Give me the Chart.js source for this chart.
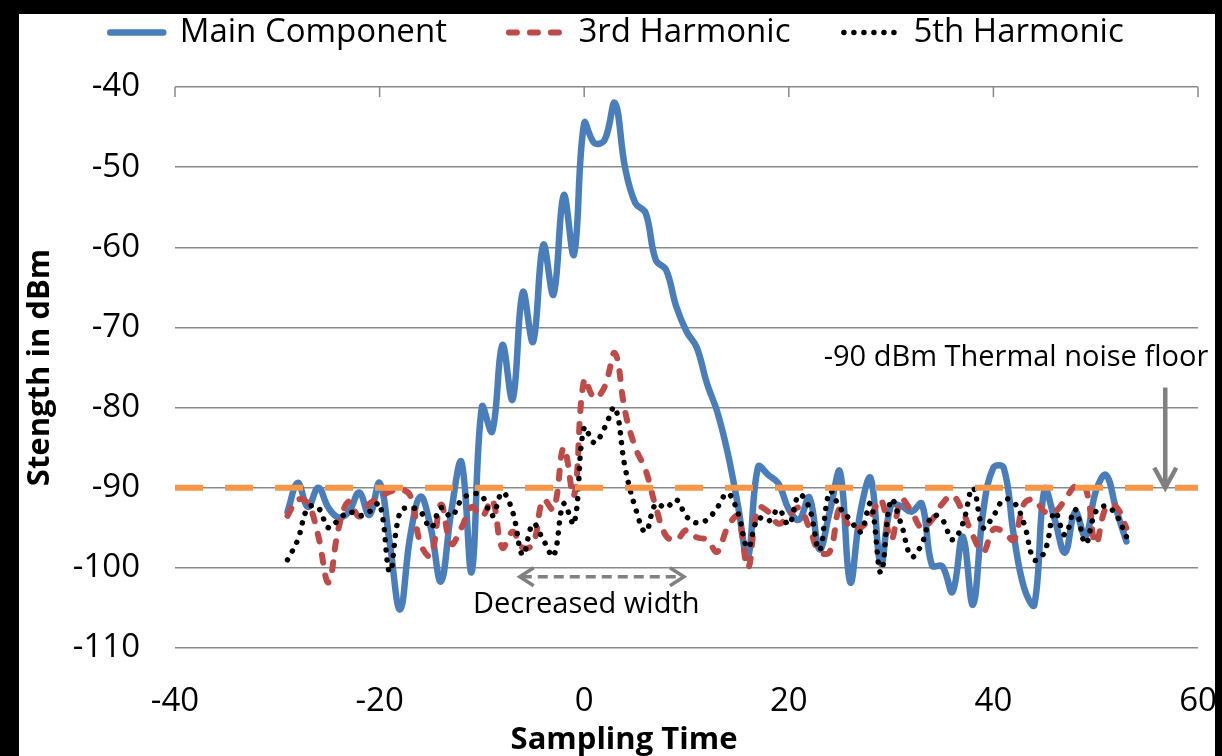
<!DOCTYPE html>
<html lang="en">
<head>
    <meta charset="UTF-8">
    <title>Harmonic strength vs sampling time</title>
    <script src="https://cdn.jsdelivr.net/npm/chart.js"></script>
    <style>
        html, body {
            margin: 0;
            padding: 0;
            background: #000;
            overflow: hidden;
        }
        .frame {
            position: absolute;
            left: 19px;
            top: 14px;
            width: 1196px;
            height: 742px;
            background: #fff;
        }
    </style>
</head>
<body>
    <div class="frame">
        <canvas id="harmonicChart"></canvas>
    </div>

    <script>
        // sampling instants shared by all three traces
        const sampleTimes = [
            -29, -28, -27, -26, -25, -24, -23, -22, -21, -20,
            -19, -18, -17, -16, -15, -14, -13, -12, -11, -10,
            -9, -8, -7, -6, -5, -4, -3, -2, -1, 0,
            1, 2, 3, 4, 5, 6, 7, 8, 9, 10,
            11, 12, 13, 14, 15, 16, 17, 18, 19, 20,
            21, 22, 23, 24, 25, 26, 27, 28, 29, 30,
            31, 32, 33, 34, 35, 36, 37, 38, 39, 40,
            41, 42, 43, 44, 45, 46, 47, 48, 49, 50,
            51, 52, 53
        ];

        const mainComponent = [
            -93, -89.4, -92.4, -90, -92.5, -93.7, -93, -90.6, -93.4, -89.4,
            -97, -105.2, -96, -91.1, -95, -101.7, -93, -86.8, -100.5, -79.9,
            -83, -72.2, -79, -65.6, -71.8, -59.7, -65.9, -53.5, -60.9, -44.5,
            -47, -46.6, -42, -50.1, -54.5, -55.7, -61.6, -62.8, -67.4, -70.5,
            -72.5, -77, -80.5, -85.5, -92, -98.7, -87.4, -88.4, -89.5, -92.7,
            -94, -91.2, -97.7, -93, -88, -101.8, -93, -88.8, -99.5, -92.2,
            -92.3, -93, -92, -99.7, -99.8, -103, -96.1, -104.6, -93, -87.5,
            -87.5, -96, -102.5, -104.6, -90.2, -94, -98.1, -93, -96.1, -90.5,
            -88.4, -92.7, -96.7
        ];

        const thirdHarmonic = [
            -93.5, -91.5, -92, -96, -101.8, -95, -91.7, -93.6, -92, -91.2,
            -90.5, -90.2, -91, -97, -98.5, -92.1, -97, -95, -92.4, -93.6,
            -91.5, -97.5, -95.5, -97.5, -97, -91.5, -92.7, -85, -91, -76.5,
            -78.8, -77.4, -73.2, -80.5, -85, -87.8, -92.4, -96, -96.5, -95.3,
            -96.2, -96.5, -98, -95, -93.6, -100, -92.5, -93, -94.5, -93.5,
            -92.5, -95, -98, -98, -92.5, -95, -95, -93.6, -91.5, -96.5,
            -91.5, -93, -95, -94, -92, -91, -93, -96, -98, -95.2,
            -95.5, -96.5, -92, -91.5, -93, -93, -91.5, -89.8, -90, -97,
            -92.5, -92.4, -95
        ];

        const fifthHarmonic = [
            -99, -96.5, -92.5, -92.5, -95, -94, -93, -93.5, -93, -92,
            -100.5, -93, -92.5, -93, -95, -92.5, -93.6, -91.5, -90.8, -91,
            -93.5, -90.6, -93, -98.4, -94.5, -96.5, -98.5, -92, -94.5, -82.5,
            -84.4, -82.5, -80, -87.5, -92.5, -95.5, -92, -92.5, -91.5, -93.6,
            -94.4, -94, -92.5, -90.7, -93, -97.5, -93.8, -94.2, -92.7, -94.6,
            -90.9, -92.5, -97.8, -90.5, -92.5, -94, -95.5, -92, -100.6, -91.5,
            -94.6, -98.6, -97, -93.5, -94, -96.5, -94.5, -90, -95, -93.5,
            -91.5, -91.8, -94.5, -99, -98, -93, -95.9, -92.7, -97, -93,
            -92.3, -93.4, -96.1
        ];

        const seriesNames = ['Main Component', '3rd Harmonic', '5th Harmonic'];
        const legendSpacing = ['       ', '      ', ''];

        const noiseFloor = -90;
        const noiseFloorSpan = [-40, 60];

        const xTicks = [-40, -20, 0, 20, 40, 60];
        const yTicks = [-110, -100, -90, -80, -70, -60, -50, -40];

        const FONT = "'Open Sans', 'Noto Sans', sans-serif";
        const GREY = '#808080';

        function toPoints(values) {
            return values.map((v, i) => ({ x: sampleTimes[i], y: v }));
        }

        function chevron(ctx, tipX, tipY, dx, dy, len, half) {
            // open arrow head pointing along (dx, dy)
            const nx = -dy, ny = dx;
            ctx.beginPath();
            ctx.moveTo(tipX - dx * len + nx * half, tipY - dy * len + ny * half);
            ctx.lineTo(tipX, tipY);
            ctx.lineTo(tipX - dx * len - nx * half, tipY - dy * len - ny * half);
            ctx.stroke();
        }

        const annotations = {
            id: 'annotations',
            beforeInit(chart) {
                // legend takes the band above the plot
                const fit = chart.legend.fit;
                chart.legend.fit = function () {
                    fit.call(this);
                    this.height = 73;
                };
            },
            afterDatasetsDraw(chart) {
                const { ctx, chartArea } = chart;
                const x = chart.scales.x, y = chart.scales.y;
                ctx.save();

                // axis line ticks along the top (-40 line)
                ctx.strokeStyle = '#898989';
                ctx.lineWidth = 1.5;
                xTicks.forEach(t => {
                    const px = x.getPixelForValue(t);
                    ctx.beginPath();
                    ctx.moveTo(px, chartArea.top);
                    ctx.lineTo(px, chartArea.top + 10);
                    ctx.stroke();
                });

                // thermal noise floor label + arrow
                ctx.fillStyle = '#000';
                ctx.font = '29px ' + FONT;
                ctx.textAlign = 'right';
                ctx.textBaseline = 'middle';
                ctx.fillText('-90 dBm Thermal noise floor', x.getPixelForValue(61), y.getPixelForValue(-73.8));

                const ax = x.getPixelForValue(56.8);
                const aTop = y.getPixelForValue(-77.5);
                const aTip = y.getPixelForValue(noiseFloor);
                ctx.strokeStyle = GREY;
                ctx.lineWidth = 4.5;
                ctx.lineCap = 'butt';
                ctx.beginPath();
                ctx.moveTo(ax, aTop);
                ctx.lineTo(ax, aTip - 2);
                ctx.stroke();
                ctx.lineJoin = 'miter';
                chevron(ctx, ax, aTip, 0, 1, 20, 11);

                // decreased width double arrow
                const wy = y.getPixelForValue(-101.1);
                const wl = x.getPixelForValue(-6.3);
                const wr = x.getPixelForValue(9.75);
                ctx.lineWidth = 3.5;
                ctx.setLineDash([10, 6]);
                ctx.beginPath();
                ctx.moveTo(wl + 2, wy);
                ctx.lineTo(wr - 2, wy);
                ctx.stroke();
                ctx.setLineDash([]);
                chevron(ctx, wl, wy, -1, 0, 14, 9);
                chevron(ctx, wr, wy, 1, 0, 14, 9);

                ctx.fillStyle = '#000';
                ctx.textAlign = 'center';
                ctx.fillText('Decreased width', x.getPixelForValue(0.2), y.getPixelForValue(-104.6));

                // axis titles
                ctx.font = 'bold 31px ' + FONT;
                ctx.fillText('Sampling Time', chart.width / 2 + 7, chart.height - 16);
                ctx.translate(21, (chartArea.top + chartArea.bottom) / 2);
                ctx.rotate(-Math.PI / 2);
                ctx.fillText('Stength in dBm', 0, 0);

                ctx.restore();
            }
        };

        const ctx = document.getElementById('harmonicChart').getContext('2d');
        new Chart(ctx, {
            type: 'scatter',
            data: {
                datasets: [
                    {
                        label: seriesNames[0],
                        data: toPoints(mainComponent),
                        showLine: true,
                        borderColor: '#4A7EBB',
                        backgroundColor: '#4A7EBB',
                        borderWidth: 6.5,
                        borderCapStyle: 'round',
                        borderJoinStyle: 'round',
                        pointRadius: 0,
                        tension: 0.4,
                        order: 3
                    },
                    {
                        label: seriesNames[1],
                        data: toPoints(thirdHarmonic),
                        showLine: true,
                        borderColor: '#BE4B48',
                        backgroundColor: '#BE4B48',
                        borderWidth: 6,
                        borderDash: [8, 13],
                        borderCapStyle: 'round',
                        pointRadius: 0,
                        tension: 0.4,
                        order: 2
                    },
                    {
                        label: seriesNames[2],
                        data: toPoints(fifthHarmonic),
                        showLine: true,
                        borderColor: '#000000',
                        backgroundColor: '#000000',
                        borderWidth: 5.5,
                        borderDash: [0.01, 10],
                        borderCapStyle: 'round',
                        pointRadius: 0,
                        tension: 0.4,
                        order: 1
                    },
                    {
                        label: 'noise floor',
                        data: noiseFloorSpan.map(t => ({ x: t, y: noiseFloor })),
                        showLine: true,
                        borderColor: '#F79646',
                        backgroundColor: '#F79646',
                        borderWidth: 6,
                        borderDash: [28, 22],
                        pointRadius: 0,
                        order: 0
                    }
                ]
            },
            options: {
                responsive: true,
                maintainAspectRatio: false,
                animation: false,
                layout: { padding: 0 },
                plugins: {
                    tooltip: { enabled: false },
                    legend: {
                        position: 'top',
                        labels: {
                            usePointStyle: true,
                            pointStyle: 'line',
                            pointStyleWidth: 53,
                            padding: 2,
                            color: '#000',
                            font: { family: FONT, size: 33 },
                            filter: item => item.datasetIndex < 3,
                            sort: (a, b) => a.datasetIndex - b.datasetIndex,
                            generateLabels(chart) {
                                const items = Chart.defaults.plugins.legend.labels.generateLabels(chart);
                                items.forEach(it => {
                                    const ds = chart.data.datasets[it.datasetIndex];
                                    if (it.datasetIndex < 3) it.text = seriesNames[it.datasetIndex] + legendSpacing[it.datasetIndex];
                                    it.lineDash = ds.borderDash || [];
                                    it.lineCap = ds.borderCapStyle || 'butt';
                                    it.lineWidth = ds.borderWidth;
                                    it.strokeStyle = ds.borderColor;
                                });
                                return items;
                            }
                        }
                    }
                },
                scales: {
                    x: {
                        type: 'linear',
                        min: xTicks[0],
                        max: xTicks[xTicks.length - 1],
                        afterBuildTicks(scale) {
                            scale.ticks = xTicks.map(v => ({ value: v }));
                        },
                        afterFit(scale) {
                            scale.height = 108;
                            scale.paddingLeft = 0;
                            scale.paddingRight = 0;
                        },
                        grid: { display: false, drawTicks: false },
                        border: { display: false },
                        ticks: {
                            padding: 34,
                            color: '#000',
                            font: { family: FONT, size: 33 },
                            maxRotation: 0
                        }
                    },
                    y: {
                        type: 'linear',
                        min: yTicks[0],
                        max: yTicks[yTicks.length - 1],
                        afterBuildTicks(scale) {
                            scale.ticks = yTicks.map(v => ({ value: v }));
                        },
                        afterFit(scale) {
                            scale.width = 156;
                            scale.paddingTop = 0;
                            scale.paddingBottom = 0;
                        },
                        grid: { color: '#898989', lineWidth: 1.5, drawTicks: false },
                        border: { display: false },
                        ticks: {
                            padding: 35,
                            color: '#000',
                            font: { family: FONT, size: 33 }
                        }
                    },
                    // empty strip on the right so the plot stops short of the frame
                    yRight: {
                        type: 'linear',
                        position: 'right',
                        min: yTicks[0],
                        max: yTicks[yTicks.length - 1],
                        afterFit(scale) {
                            scale.width = 17;
                            scale.paddingTop = 0;
                            scale.paddingBottom = 0;
                        },
                        grid: { display: false, drawTicks: false },
                        border: { display: false },
                        ticks: { display: false }
                    }
                }
            },
            plugins: [annotations]
        });
    </script>
</body>
</html>
